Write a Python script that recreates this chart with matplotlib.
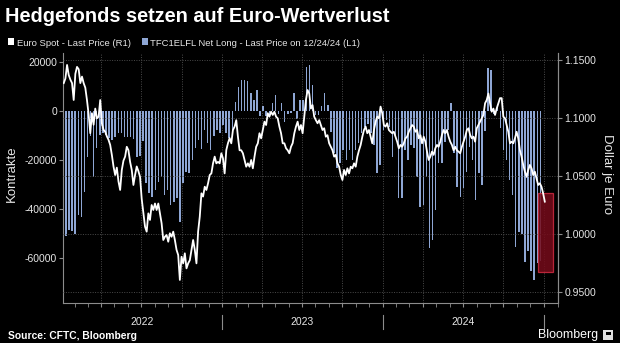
# Hedgefonds setzen auf Euro-Wertverlust - Bloomberg style chart
import pandas as pd
import matplotlib
matplotlib.use("Agg")
import matplotlib.pyplot as plt
import matplotlib.dates as mdates
from matplotlib.patches import Rectangle
from matplotlib.transforms import blended_transform_factory

plt.rcParams['font.family'] = ['Liberation Sans', 'DejaVu Sans']
plt.rcParams['axes.unicode_minus'] = False

# ---------- data ----------
# weekly leveraged funds net long, contracts (L1)
net_long = [
    -51000, -48500, -49000, -50000, -42500, -43000, -33000, -18500, -10000, -27000,
    -15000, -9600, -8800, -9600, -11000, -11700, -10300, -8800, -8800, -10300,
    -10500, -10300, -11200, -18600, -18400, -12000, -29300, -33400, -35000, -32000,
    -28700, -26700, -34200, -32000, -38300, -36900, -35500, -45000, -29300, -24600,
    -25200, -19900, -15100, -11700, -15500, -7600, -13000, -15800, -10100, -7600,
    -9000, -5600, -9000, -11000, -7600, 3900, 10000, 12800, 12800, 12400,
    7600, 4600, 8700, -2000, 2200, -2000, -1000, 3500, 6600, -1000,
    3500, -4200, -1000, -800, 7300, -3000, 4600, 4700, 18200, 18900,
    10700, -1500, -1500, 2000, 7300, 2700, -8300, -17100, -23300, -21000,
    -15800, -19900, -15800, -19900, -15800, -13000, -9000, -6300, -5000, -9000,
    -13700, -25200, -21800, -7600, -3500, -6300, -18500, -10100, -35500, -35500,
    -15800, -19900, -13700, -15100, -27000, -38900, -38300, -26700, -55900, -52500,
    -40300, -21300, -21300, -12400, -7600, 3500, -17100, -30800, -34900, -31400,
    -24600, -14400, -19900, -36200, -25200, -30000, -8000, 17500, 16900, -1000,
    2000, -7000, -15800, -20000, -28000, -34200, -55300, -49100, -50000, -61400,
    -57000, -65000, -69000, -62000, -61000,
]
bar_dates = pd.date_range("2022-01-11", periods=len(net_long), freq="7D")

# EUR/USD spot (R1)
euro = [
    1.130, 1.134, 1.1457, 1.137, 1.133, 1.130, 1.1154, 1.138, 1.144, 1.142,
    1.130, 1.1356, 1.130, 1.126, 1.1154, 1.103, 1.0867, 1.104, 1.094, 1.108,
    1.0996, 1.101, 1.1154, 1.095, 1.0896, 1.088, 1.084, 1.081, 1.0766, 1.068,
    1.058, 1.0506, 1.057, 1.045, 1.0377, 1.055, 1.063, 1.0665, 1.075, 1.072,
    1.062, 1.055, 1.042, 1.0506, 1.058, 1.054, 1.049, 1.030,
    1.0177, 1.006, 1.0017, 1.0175, 1.0118, 1.0247, 1.0204, 1.026, 1.0204, 1.026,
    1.0175, 1.0089, 0.9945, 0.9973, 0.9988, 0.993, 1.0003, 0.9973, 1.0017, 0.9945,
    0.986, 0.9815, 0.960, 0.980, 0.9743, 0.983, 0.970, 0.9743, 0.977, 0.986,
    0.9945, 0.986, 0.9743, 1.0017, 1.0146, 1.0348, 1.032, 1.0405, 1.0377, 1.0435,
    1.0506, 1.052, 1.0607, 1.0665, 1.0607, 1.062, 1.0607, 1.0694, 1.065, 1.052,
    1.0722,
    1.0781, 1.0825, 1.078, 1.0895, 1.0924, 1.098, 1.0837, 1.072, 1.072, 1.0694,
    1.0636, 1.0578, 1.0607, 1.0578, 1.0636, 1.0564, 1.0665, 1.075, 1.078, 1.0867,
    1.0823, 1.0895, 1.0967, 1.0938, 1.104, 1.101, 1.1053, 1.1025, 1.1053, 1.101,
    1.0996, 1.0924, 1.0867, 1.078, 1.078, 1.0737, 1.072, 1.0694, 1.075, 1.0781,
    1.0867, 1.0924, 1.0967, 1.0895, 1.0938, 1.0867, 1.101, 1.1154, 1.124, 1.121,
    1.108,
    1.111, 1.101, 1.098, 1.0953, 1.098, 1.0938, 1.0895, 1.091, 1.0837, 1.085,
    1.078, 1.075, 1.072, 1.0665, 1.068, 1.0607, 1.0578, 1.0506, 1.0463, 1.055,
    1.0506, 1.0564, 1.052, 1.0578, 1.0564, 1.0607, 1.0578, 1.0665, 1.072, 1.0766,
    1.0837, 1.0895, 1.0924, 1.0867, 1.0895, 1.0837, 1.078, 1.0895, 1.0967, 1.101,
    1.0996, 1.1097, 1.104, 1.0938, 1.0924, 1.0953, 1.0895, 1.088, 1.0867, 1.088,
    1.0837,
    1.0794, 1.0737, 1.0766, 1.075, 1.078, 1.0823, 1.0837, 1.088, 1.091, 1.0938,
    1.0924, 1.088, 1.0895, 1.0823, 1.085, 1.078, 1.0837, 1.0794, 1.0708, 1.0636,
    1.0665, 1.0708, 1.068, 1.0737, 1.0766, 1.075, 1.0794, 1.0852, 1.0895, 1.0867,
    1.0895, 1.0837, 1.0794, 1.0766, 1.072, 1.075, 1.072, 1.0708, 1.0694, 1.075,
    1.0794, 1.0837, 1.0895, 1.091, 1.0852, 1.0823, 1.0837, 1.0794, 1.091, 1.0938,
    1.0967, 1.0996, 1.1025, 1.1126, 1.1154, 1.121, 1.1126, 1.1053, 1.108, 1.1025,
    1.108, 1.1126, 1.117, 1.117, 1.101, 1.0996, 1.0938, 1.088, 1.078, 1.0794,
    1.078, 1.0823, 1.088, 1.0823, 1.072, 1.0665, 1.0593, 1.0535, 1.049, 1.055,
    1.0593, 1.0564, 1.0506, 1.0535, 1.0478, 1.042, 1.0435, 1.0405, 1.0348, 1.0276,
]
euro_dates = pd.date_range("2022-01-06", "2025-01-03", periods=len(euro))

left_ticks = [-60000, -40000, -20000, 0, 20000]
right_ticks = [0.95, 1.00, 1.05, 1.10, 1.15]
years = [2022, 2023, 2024]

BAR_COLOR = '#8ea6d4'
TXT = '#e6e6e6'
AXC = '#8c8c8c'

fig = plt.figure(figsize=(6.2, 3.43), dpi=100, facecolor='black')
ax1 = fig.add_axes([63.3 / 620, 1 - 302.5 / 343, (558 - 63.3) / 620, (302.5 - 53) / 343])
ax1.set_facecolor('black')
ax2 = ax1.twinx()

# bars (left axis)
ax1.bar(bar_dates, net_long, width=3.4, color=BAR_COLOR, zorder=2)
ax1.set_ylim(-78050, 23800)

# euro line (right axis)
ax2.plot(euro_dates, euro, color='white', lw=1.3, zorder=4)
ax2.set_ylim(0.9405, 1.156)

# highlight box on the latest reading
x0 = mdates.date2num(pd.Timestamp("2024-12-18"))
ax2.add_patch(Rectangle((x0, 0.9672), 34, 1.0353 - 0.9672, facecolor='#760b1a',
                        edgecolor='#d12c42', lw=0.9, alpha=0.85, zorder=3))

# grid
ax1.xaxis.set_major_locator(mdates.MonthLocator(bymonth=[1, 4, 7, 10]))
ax1.xaxis.set_minor_locator(mdates.MonthLocator())
ax1.grid(axis='x', which='major', color='#4a4a4a', ls=(0, (1, 1.5)), lw=0.7)
ax2.grid(axis='y', color='#4a4a4a', ls=(0, (1, 1.5)), lw=0.7)
ax1.tick_params(axis='x', which='both', length=3, color=AXC, labelbottom=False)

# y axes
ax1.set_yticks(left_ticks)
ax1.set_yticklabels([str(v) for v in left_ticks])
ax2.set_yticks(right_ticks)
ax2.set_yticklabels([f"{v:.4f}" for v in right_ticks])
for ax in (ax1, ax2):
    ax.tick_params(axis='y', length=3, color=AXC, labelcolor=TXT, labelsize=7.5, pad=1.5)
    ax.spines['top'].set_visible(False)
    for s in ax.spines.values():
        s.set_color(AXC)
ax2.spines['left'].set_visible(False)
ax2.spines['bottom'].set_visible(False)

ax1.set_xlim(pd.Timestamp("2022-01-05"), pd.Timestamp("2025-02-02"))

# year labels and separators below the axis
trans = blended_transform_factory(ax1.transData, fig.transFigure)
for y in years:
    ax1.text(mdates.date2num(pd.Timestamp(f"{y}-07-02")), 1 - 322 / 343, str(y),
             transform=trans, ha='center', va='center', color=TXT, fontsize=7.5)
for y in years:
    xs = mdates.date2num(pd.Timestamp(f"{y + 1}-01-01"))
    ax1.plot([xs, xs], [1 - 315 / 343, 1 - 329 / 343], transform=trans,
             color=AXC, lw=0.8, clip_on=False)
ax1.set_xlim(pd.Timestamp("2022-01-05"), pd.Timestamp("2025-02-02"))

# axis titles
fig.text(12 / 620, 1 - 174 / 343, "Kontrakte", rotation=90, ha='center', va='center',
         color=TXT, fontsize=9.5)
fig.text(607 / 620, 1 - 174 / 343, "Dollar je Euro", rotation=270, ha='center', va='center',
         color=TXT, fontsize=9.5)

# title, legend, footer
fig.text(5 / 620, 1 - 21.5 / 343, "Hedgefonds setzen auf Euro-Wertverlust",
         color='white', fontsize=14.3, fontweight='bold', va='baseline')

fig.add_artist(Rectangle((8 / 620, 1 - 45 / 343), 6 / 620, 7 / 343, transform=fig.transFigure,
                         facecolor='white', edgecolor='none'))
fig.text(17 / 620, 1 - 45.5 / 343, "Euro Spot - Last Price (R1)", color=TXT,
         fontsize=6.8, va='baseline')
fig.add_artist(Rectangle((142 / 620, 1 - 45 / 343), 6 / 620, 7 / 343, transform=fig.transFigure,
                         facecolor=BAR_COLOR, edgecolor='none'))
fig.text(150 / 620, 1 - 45.5 / 343, "TFC1ELFL Net Long - Last Price on 12/24/24 (L1)",
         color=TXT, fontsize=6.8, va='baseline')

fig.text(8 / 620, 1 - 336 / 343, "Source: CFTC, Bloomberg", color='white',
         fontsize=7.4, fontweight='bold', va='center')
fig.text(598 / 620, 1 - 335 / 343, "Bloomberg", color='white', fontsize=8.9,
         ha='right', va='center')
fig.add_artist(Rectangle((603 / 620, 1 - 340 / 343), 10 / 620, 10 / 343,
                         transform=fig.transFigure, facecolor='#e0e0e0', edgecolor='none'))
fig.add_artist(Rectangle((605.5 / 620, 1 - 335 / 343), 5 / 620, 3 / 343,
                         transform=fig.transFigure, facecolor='black', edgecolor='none'))

fig.savefig("out.png", dpi=100, facecolor='black')
